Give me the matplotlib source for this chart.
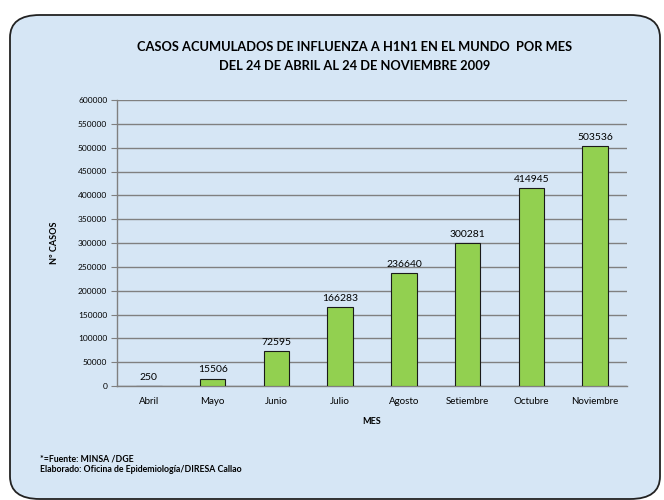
import matplotlib.pyplot as plt
from matplotlib.patches import FancyBboxPatch
import numpy as np

# datos
meses = ['Abril', 'Mayo', 'Junio', 'Julio', 'Agosto', 'Setiembre', 'Octubre', 'Noviembre']
casos = [250, 15506, 72595, 166283, 236640, 300281, 414945, 503536]
yticks = list(range(0, 600001, 50000))

plt.rcParams['font.family'] = ['Lato', 'DejaVu Sans']

W, H = 664, 500
fig = plt.figure(figsize=(W / 100, H / 100), dpi=100)
fig.patch.set_facecolor('white')

# panel de fondo redondeado
panel = FancyBboxPatch((10 / W, 1 / H), 650 / W, 484 / H,
                       boxstyle='round,pad=0,rounding_size=0.045',
                       transform=fig.transFigure, facecolor='#d6e6f5',
                       edgecolor='#222222', linewidth=1.3, zorder=-5)
fig.patches.append(panel)

ax = fig.add_axes([117 / W, 114 / H, 510 / W, 286 / H])
ax.set_facecolor('none')
ax.set_zorder(2)

x = np.arange(len(meses))
bars = ax.bar(x, casos, width=0.4, color='#92d050', edgecolor='#1a1a1a',
              linewidth=0.8, zorder=3)
ax.bar_label(bars, labels=[str(v) for v in casos], padding=3, fontsize=7.5)

ax.set_xlim(-0.5, len(meses) - 0.5)
ax.set_ylim(0, 600000)
ax.set_yticks(yticks)
ax.set_yticklabels([str(t) for t in yticks], fontsize=6)
ax.set_xticks(x)
ax.set_xticklabels(meses, fontsize=7)
ax.tick_params(axis='x', length=0, pad=8)
ax.tick_params(axis='y', length=4, color='#808080', pad=3)
ax.grid(axis='y', color='#808080', linewidth=1.0, zorder=1)

for s in ['top', 'right']:
    ax.spines[s].set_visible(False)
for s in ['left', 'bottom']:
    ax.spines[s].set_color('#808080')
    ax.spines[s].set_linewidth(1.0)

ax.set_xlabel('MES', fontsize=6.5, fontweight='bold', labelpad=8)
ax.set_ylabel('Nº CASOS', fontsize=6.5, fontweight='bold', labelpad=14)

fig.text(355 / W, 1 - 47 / H, 'CASOS ACUMULADOS DE INFLUENZA A H1N1 EN EL MUNDO  POR MES',
         ha='center', va='center', fontsize=9.3, fontweight='bold')
fig.text(355 / W, 1 - 66 / H, 'DEL 24 DE ABRIL AL 24 DE NOVIEMBRE 2009',
         ha='center', va='center', fontsize=9.3, fontweight='bold')

fig.text(40 / W, 1 - 459 / H, '*=Fuente: MINSA /DGE', ha='left', va='center',
         fontsize=6.3, fontweight='bold')
fig.text(40 / W, 1 - 470 / H, 'Elaborado: Oficina de Epidemiología/DIRESA Callao',
         ha='left', va='center', fontsize=6.3, fontweight='bold')

fig.savefig('out.png', dpi=100)
